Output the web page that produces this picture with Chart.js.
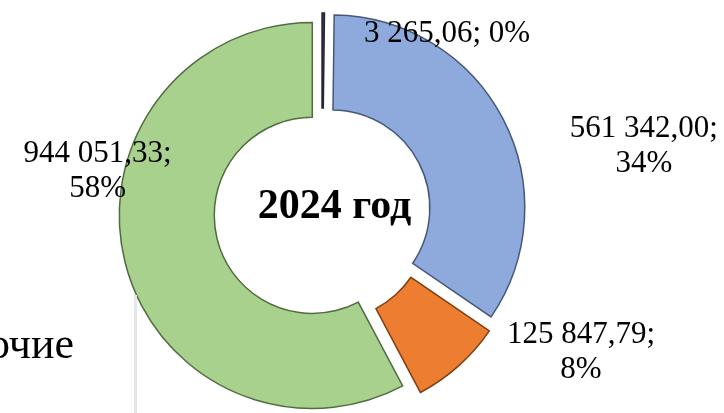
<!DOCTYPE html>
<html><head><meta charset="utf-8">
<script src="https://cdn.jsdelivr.net/npm/chart.js@4"></script>
<style>
html,body{margin:0;padding:0;background:#fff;overflow:hidden}
#wrap{position:relative;width:724px;height:413px}
</style>
</head><body>
<div id="wrap"><canvas id="c"></canvas></div>
<script>
// ---- data ----
const categories = ['Категория 1', 'Категория 2', 'Категория 3', 'Прочие'];
const values = [3265.06, 561342.00, 125847.79, 944051.33];
const centerTitle = '2024 год';
const legendFragment = 'Прочие';

// ---- styles ----
const fillColors = ['#3d3350', '#8eaadc', '#ed7d31', '#a9d18e'];
const edgeColors = ['#2a2238', '#46587a', '#7f3f12', '#526b41'];
const explode = [7, 11, 12, 10];
const labelPos = [[0.648, -0.886], [1.668, -0.394], [1.342, 0.674], [-1.163, -0.264]];
const labelWrap = [false, true, true, true];
const SERIF = "'Liberation Serif','Times New Roman',serif";

const total = values.reduce((a, b) => a + b, 0);
function fmt(v) {
  const [i, d] = v.toFixed(2).split('.');
  return i.replace(/\B(?=(\d{3})+(?!\d))/g, ' ') + ',' + d;
}
function pct(v) { return Math.round(v / total * 100) + '%'; }

const explodePlugin = {
  id: 'explode',
  beforeDatasetDraw(chart, args) {
    const ctx = chart.ctx;
    args.meta.data.forEach((arc, i) => {
      const half = (arc.startAngle + arc.endAngle) / 2;
      ctx.save();
      ctx.translate(Math.cos(half) * explode[i], Math.sin(half) * explode[i]);
      arc.draw(ctx, chart.chartArea);
      ctx.restore();
    });
    return false;
  }
};

const labelPlugin = {
  id: 'labels',
  afterDatasetsDraw(chart) {
    const ctx = chart.ctx;
    const meta = chart.getDatasetMeta(0);
    const a0 = meta.data[0];
    const cx = a0.x, cy = a0.y, R = a0.outerRadius;
    ctx.save();
    ctx.fillStyle = '#000';
    ctx.textAlign = 'center';
    ctx.textBaseline = 'alphabetic';
    ctx.font = '31px ' + SERIF;
    values.forEach((v, i) => {
      const x = cx + labelPos[i][0] * R;
      const y = cy + labelPos[i][1] * R;
      if (labelWrap[i]) {
        ctx.fillText(fmt(v) + ';', x, y);
        ctx.fillText(pct(v), x, y + 35);
      } else {
        ctx.fillText(fmt(v) + '; ' + pct(v), x, y);
      }
    });
    ctx.font = 'bold 42px ' + SERIF;
    ctx.fillText(centerTitle, cx + 12.5, cy + 5);
    ctx.restore();
  },
  afterDraw(chart) {
    const ctx = chart.ctx;
    ctx.save();
    ctx.fillStyle = '#e6e6e6';
    ctx.fillRect(134, 295, 3, 118);
    ctx.fillStyle = '#000';
    ctx.font = '44px ' + SERIF;
    ctx.textAlign = 'right';
    ctx.textBaseline = 'alphabetic';
    ctx.fillText(legendFragment, 74, 358);
    ctx.restore();
  }
};

new Chart(document.getElementById('c'), {
  type: 'doughnut',
  data: {
    labels: categories,
    datasets: [{
      data: values,
      backgroundColor: fillColors,
      borderColor: edgeColors,
      borderWidth: 1.5,
      hoverBorderWidth: 1.5,
      hoverOffset: 0,
      offset: 0,
      borderJoinStyle: 'miter'
    }]
  },
  options: {
    responsive: true,
    maintainAspectRatio: false,
    animation: false,
    cutout: '50.8%',
    layout: { padding: { left: 0, right: 80, top: 19.25, bottom: 6.25 } },
    plugins: { legend: { display: false }, tooltip: { enabled: false } },
    events: []
  },
  plugins: [explodePlugin, labelPlugin]
});
</script>
</body></html>
